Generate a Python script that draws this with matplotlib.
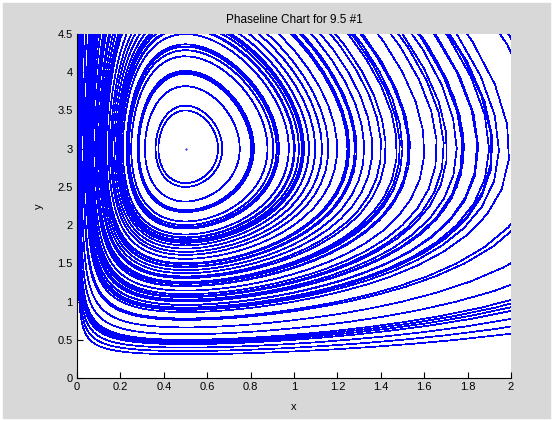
import matplotlib
matplotlib.use('Agg')
import matplotlib.pyplot as plt
import numpy as np

# predator-prey system  x' = x(a - b y),  y' = y(-c + d x)
a, b, c, d = 1.5, 0.5, 0.5, 1.0

# grid of starting points
x_starts = [0.25, 0.5, 0.75, 1.0, 1.25, 1.5, 1.75]
y_starts = [0.5, 1.0, 1.5, 2.0, 2.5, 3.0, 3.5, 4.0, 4.5]
center = (0.5, 3.0)

x_ticks = [0, 0.2, 0.4, 0.6, 0.8, 1, 1.2, 1.4, 1.6, 1.8, 2]
y_ticks = [0, 0.5, 1, 1.5, 2, 2.5, 3, 3.5, 4, 4.5]


def f(p):
    x, y = p
    return np.array([x * (a - b * y), y * (-c + d * x)])


def trajectory(p0, dt, t_end):
    pts = [np.array(p0, dtype=float)]
    p = pts[0]
    for _ in range(int(t_end / abs(dt))):
        k1 = f(p)
        k2 = f(p + dt / 2 * k1)
        k3 = f(p + dt / 2 * k2)
        k4 = f(p + dt * k3)
        p = p + dt / 6 * (k1 + 2 * k2 + 2 * k3 + k4)
        pts.append(p)
        if p[0] > 2.3 or p[1] > 5.0:
            break
    return np.array(pts)


fig = plt.figure(figsize=(5.56, 4.21), dpi=100, facecolor='white')
bg = plt.Rectangle((3 / 556, 3 / 421), 547 / 556, 415 / 421,
                   transform=fig.transFigure, color='#d8d8d8', zorder=-10)
fig.add_artist(bg)
ax = fig.add_axes([77 / 556, 43 / 421, 434 / 556, 344 / 421])

for x0 in x_starts:
    for y0 in y_starts:
        fwd = trajectory((x0, y0), 0.1, 12)
        bwd = trajectory((x0, y0), -0.1, 12)
        path = np.vstack([bwd[::-1], fwd[1:]])
        ax.plot(path[:, 0], path[:, 1], color='#0000ff', lw=0.5, antialiased=False)

ax.plot([center[0]], [center[1]], '.', color='#0000ff', markersize=1)

ax.set_xlim(0, 2)
ax.set_ylim(0, 4.5)
ax.set_xticks(x_ticks)
ax.set_xticklabels(['0', '0.2', '0.4', '0.6', '0.8', '1', '1.2', '1.4', '1.6', '1.8', '2'])
ax.set_yticks(y_ticks)
ax.set_yticklabels(['0', '0.5', '1', '1.5', '2', '2.5', '3', '3.5', '4', '4.5'])
ax.tick_params(direction='in', length=4, labelsize=8, pad=3)
ax.spines['top'].set_visible(False)
ax.spines['right'].set_visible(False)
for s in ('left', 'bottom'):
    ax.spines[s].set_linewidth(0.8)

ax.set_title('Phaseline Chart for 9.5 #1', fontsize=8.5, pad=8, family='Liberation Sans')
ax.set_xlabel('x', fontsize=8, family='Liberation Sans', labelpad=7)
ax.set_ylabel('y', fontsize=8, family='Liberation Sans', labelpad=10)
for lab in ax.get_xticklabels() + ax.get_yticklabels():
    lab.set_family('Liberation Sans')

fig.savefig('out.png', dpi=100, facecolor=fig.get_facecolor())
